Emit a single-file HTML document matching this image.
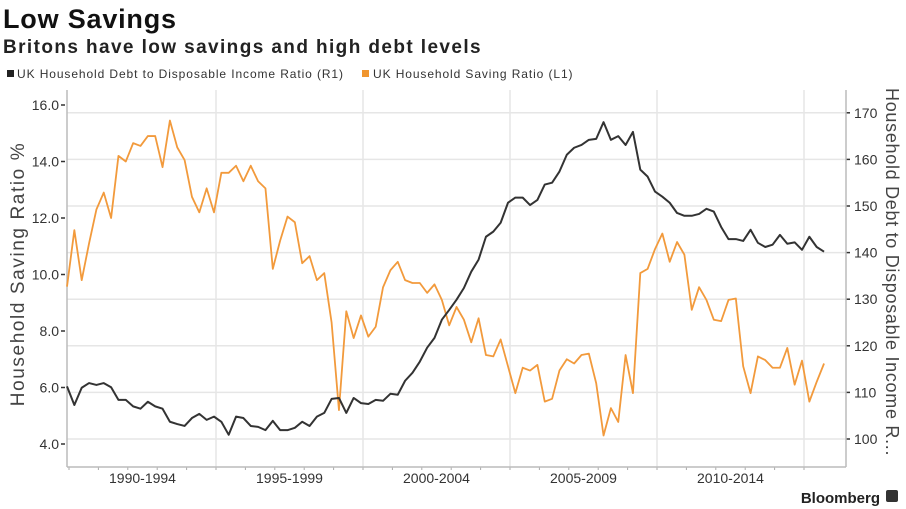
<!DOCTYPE html>
<html><head><meta charset="utf-8"><style>
body{margin:0;background:#fff;font-family:"Liberation Sans",sans-serif;}
#wrap{position:relative;width:906px;height:509px;overflow:hidden;}
</style></head><body>
<div id="wrap">
<svg id="svg" width="906" height="509" xmlns="http://www.w3.org/2000/svg">
<text x="3" y="28" font-size="27" font-weight="bold" letter-spacing="0.8" fill="#111">Low Savings</text>
<text x="3" y="53" font-size="19" font-weight="bold" letter-spacing="1.4" fill="#222">Britons have low savings and high debt levels</text>
<g>
<rect x="7" y="70" width="7" height="7" fill="#222"/>
<text x="17" y="78" font-size="12" letter-spacing="0.9" fill="#333">UK Household Debt to Disposable Income Ratio (R1)</text>
<rect x="362" y="70" width="7" height="7" fill="#f0952e"/>
<text x="373" y="78" font-size="12" letter-spacing="0.9" fill="#333">UK Household Saving Ratio (L1)</text>
</g>
<g id="grid"></g><g id="axes"></g><g id="series"></g>
<text transform="translate(24,274) rotate(-90)" text-anchor="middle" font-size="19" letter-spacing="1.6" fill="#444">Household Saving Ratio %</text>
<text transform="translate(886,88) rotate(90)" font-size="18" letter-spacing="0.7" fill="#444">Household Debt to Disposable Income R...</text>
<text x="880" y="503" text-anchor="end" font-size="15" font-weight="bold" fill="#222">Bloomberg</text>
<rect x="886" y="490" width="12" height="12" rx="2" fill="#333"/>
</svg>
</div>
<script>
const saving=[9.57,11.57,9.8,11.1,12.3,12.9,12.0,14.2,14.0,14.65,14.55,14.9,14.9,13.8,15.45,14.5,14.05,12.75,12.2,13.05,12.2,13.6,13.6,13.85,13.3,13.85,13.3,13.05,10.2,11.2,12.05,11.85,10.4,10.65,9.8,10.05,8.3,5.2,8.7,7.75,
8.55,7.8,8.15,9.55,10.15,10.45,9.8,9.7,9.7,9.35,9.65,9.1,8.2,8.85,8.4,7.6,8.45,7.15,7.1,7.7,6.75,5.8,6.7,6.6,6.8,5.5,5.6,6.6,7.0,6.85,7.15,7.2,
6.15,4.3,5.27,4.78,7.15,5.8,10.05,10.2,10.9,11.45,10.45,11.15,10.7,8.75,9.55,9.1,8.4,8.35,9.1,9.15,6.75,5.8,7.1,6.97,6.7,6.7,7.4,6.1,6.95,5.5,6.2,6.85];
const debt=[111.3,107.3,111,112,111.6,112,111.1,108.4,108.4,107,106.5,108,107,106.5,103.7,103.2,102.8,104.5,105.4,104.1,104.8,103.7,100.9,104.8,104.5,102.8,102.6,101.9,103.9,101.9,101.9,102.4,103.7,102.8,104.8,105.6,108.6,108.8,105.6,108.8,
107.7,107.5,108.4,108.2,109.7,109.5,112.5,114.2,116.6,119.6,121.7,125.6,127.7,129.9,132.4,135.9,138.5,143.4,144.5,146.4,150.7,151.8,151.8,150.2,151.3,154.6,155,157.4,161,162.5,163.1,164.2,
164.4,168,164.2,165,163.1,165.9,157.8,156.3,153.1,152,150.7,148.5,147.9,147.9,148.3,149.4,148.8,145.5,142.9,142.9,142.5,144.9,142.1,141.2,141.7,143.8,141.9,142.2,140.6,143.4,141.2,140.2];
const leftTicks=["4.0","6.0","8.0","10.0","12.0","14.0","16.0"];
const leftVals=[4,6,8,10,12,14,16];
const rightVals=[100,110,120,130,140,150,160,170];
const periodLabels=["1990-1994","1995-1999","2000-2004","2005-2009","2010-2014"];
const periodStarts=[1990,1995,2000,2005,2010,2015];
const startYear=1990;
const NS="http://www.w3.org/2000/svg";
const X0=67,X1=846,YT=90,YB=467;
const xYear=y=>69+(y-1990)*29.4;
const xQ=i=>xYear(startYear+i/4)-2;
const yL=v=>444-(v-4)*28.25;
const yR=v=>439-(v-100)*4.66;
function mk(tag,attrs,parent){const e=document.createElementNS(NS,tag);for(const k in attrs)e.setAttribute(k,attrs[k]);parent.appendChild(e);return e;}
const grid=document.getElementById('grid'),axes=document.getElementById('axes'),series=document.getElementById('series');
rightVals.forEach(v=>{const l=mk('line',{x1:X0,x2:X1,y1:yR(v),y2:yR(v),stroke:'#e6e6e6','stroke-width':1.5},grid);


const t=mk('text',{x:X1+8,y:yR(v)+5,'font-size':14,fill:'#333'},axes);t.textContent=v;


mk('line',{x1:X1,x2:X1+4,y1:yR(v),y2:yR(v),stroke:'#333','stroke-width':1.5},axes);});
periodStarts.forEach(y=>{if(y>1990){const l=mk('line',{x1:xYear(y),x2:xYear(y),y1:YT,y2:YB,stroke:'#e6e6e6','stroke-width':1.5},grid);

}});
for(let y=1990;y<=2015;y++){mk('line',{x1:xYear(y),x2:xYear(y),y1:YB,y2:YB+3,stroke:'#aaa'},axes);}
leftVals.forEach((v,i)=>{const t=mk('text',{x:59,y:yL(v)+5,'font-size':14,fill:'#333','text-anchor':'end'},axes);t.textContent=leftTicks[i];


mk('line',{x1:61,x2:65,y1:yL(v),y2:yL(v),stroke:'#333','stroke-width':1.5},axes);});
periodLabels.forEach((s,i)=>{const t=mk('text',{x:(xYear(periodStarts[i])+xYear(periodStarts[i+1]))/2,y:483,'font-size':14,fill:'#333','text-anchor':'middle'},axes);t.textContent=s;

});
[[X0,YT,X0,YB],[X0,YB,X1,YB],[X1,YT,X1,YB]].forEach(a=>mk('line',{x1:a[0],y1:a[1],x2:a[2],y2:a[3],stroke:'#bbb','stroke-width':1.5},axes));
const po=mk('polyline',{points:saving.map((v,i)=>xQ(i)+','+yL(v)).join(' '),fill:'none',stroke:'#f29a3c','stroke-width':1.8,'stroke-linejoin':'round'},series);


const pb=mk('polyline',{points:debt.map((v,i)=>xQ(i)+','+yR(v)).join(' '),fill:'none',stroke:'#333','stroke-width':2,'stroke-linejoin':'round'},series);


</script>
</body></html>
